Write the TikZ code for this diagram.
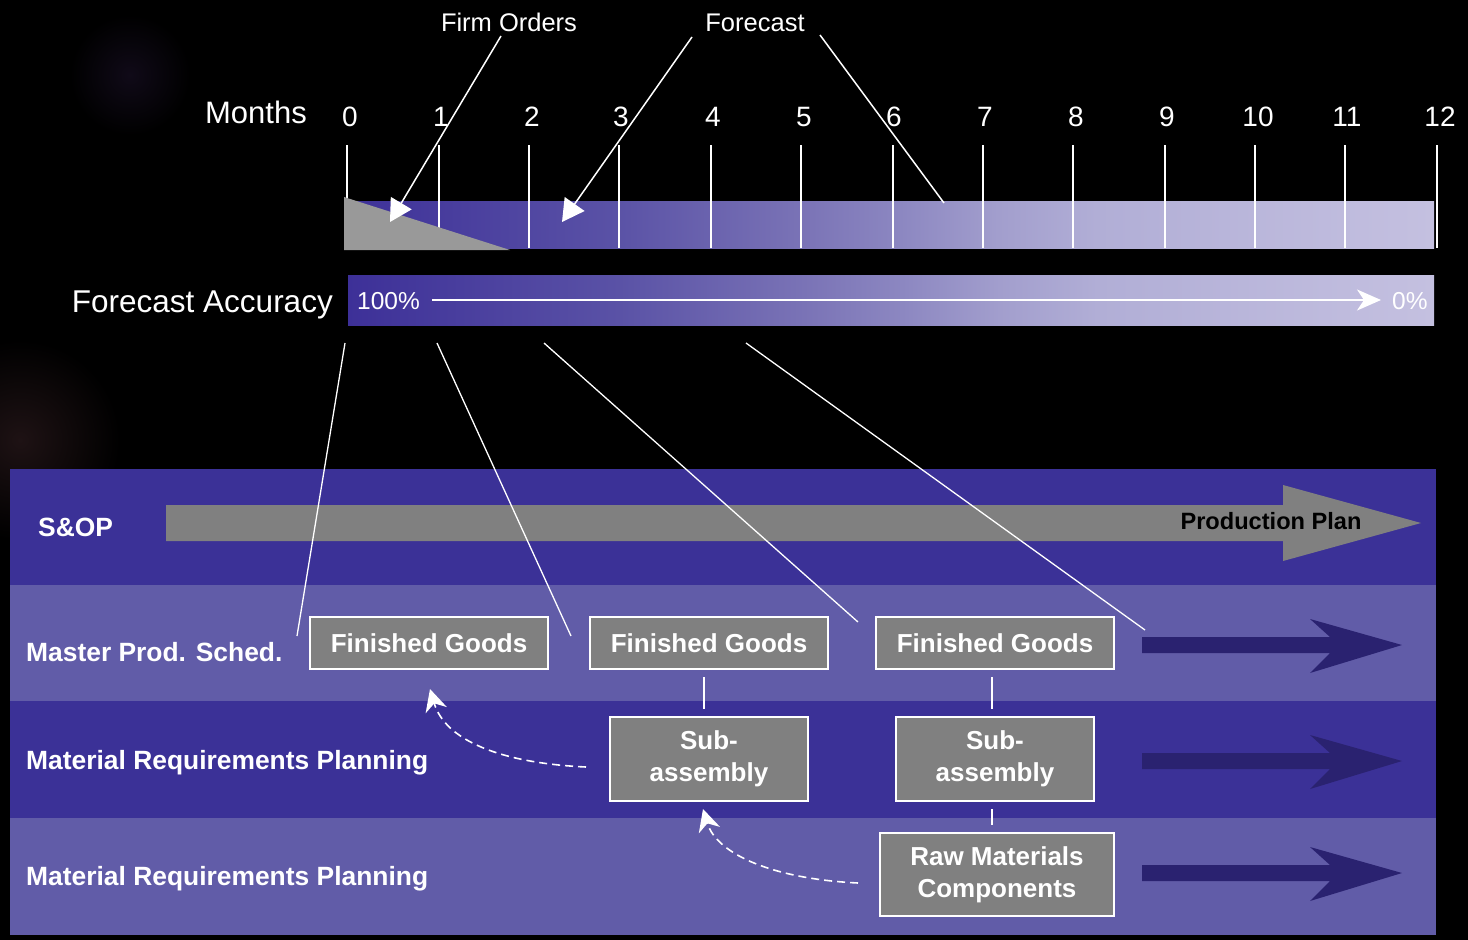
\documentclass[tikz,border=0pt]{standalone}
\usepackage{fontspec}
\setmainfont{Liberation Sans}
\usetikzlibrary{arrows.meta}
\definecolor{banddark}{RGB}{59,49,151}
\definecolor{bandlight}{RGB}{97,92,168}
\definecolor{navyarrow}{RGB}{42,34,112}
\definecolor{boxgrey}{RGB}{128,128,128}
\definecolor{trigrey}{RGB}{153,153,153}
\definecolor{gc0}{RGB}{61,48,152}
\definecolor{gc1}{RGB}{90,82,166}
\definecolor{gc2}{RGB}{122,115,182}
\definecolor{gc3}{RGB}{140,135,193}
\definecolor{gc4}{RGB}{162,158,205}
\definecolor{gc5}{RGB}{177,174,214}
\definecolor{gc6}{RGB}{196,192,224}
\pgfdeclarehorizontalshading{timeshade}{100bp}{color(0bp)=(gc0); color(25bp)=(gc0); color(37.5bp)=(gc1); color(46bp)=(gc2); color(50.5bp)=(gc3); color(55bp)=(gc4); color(59.5bp)=(gc5); color(75bp)=(gc6); color(100bp)=(gc6)}
\tikzset{
  lbl/.style={text=white, inner sep=0pt, anchor=base},
  ticklbl/.style={lbl, font=\fontsize{28}{30}\selectfont},
  bandlbl/.style={lbl, anchor=base west, font=\fontsize{26.4}{30}\selectfont\bfseries},
  tickline/.style={white, line width=2pt},
  thinline/.style={white, line width=1.3pt},
  bigtip/.style={white, line width=1.5pt, -{Triangle[length=22pt,width=24pt]}},
  gbox/.style={draw=white, fill=boxgrey, line width=2pt, text=white, align=center, inner sep=0pt, font=\fontsize{26}{32}\selectfont\bfseries},
  dasharrow/.style={white, line width=1.6pt, dash pattern=on 8pt off 5pt, -{Stealth[length=22pt,width=22pt,inset=7pt]}},
  linkline/.style={white, line width=2pt, shorten <=7pt, shorten >=7pt},
}
\begin{document}
\begin{tikzpicture}[x=1pt,y=-1pt]
\fill[black] (0,0) rectangle (1468,940);
\useasboundingbox (0,0) rectangle (1468,940);
% faint background glow
\shade[inner color={rgb,255:red,30;green,18;blue,20}, outer color=black] (20,440) circle (100);
\shade[inner color={rgb,255:red,16;green,10;blue,24}, outer color=black] (130,75) circle (60);

% ---- timeline bar ----
\shade[shading=timeshade] (344,201) rectangle (1434,248);
\foreach \i/\lx/\tx in {0/350/347,1/441/439,2/532/529,3/621/619,4/713/711,5/804/801,6/894/893,7/985/983,8/1076/1073,9/1167/1165,10/1258/1255,11/1347/1345,12/1440/1437}{
  \node[ticklbl] (m\i) at (\lx,126) {\i};
  \ifnum\i=0
    \draw[tickline] (\tx,145) -- (\tx,198);
  \else
    \draw[tickline] (\tx,145) -- (\tx,248);
  \fi
}
\fill[trigrey] (344,197) -- (510,250) -- (344,250) -- cycle;
\node[lbl, anchor=base east, font=\fontsize{31}{34}\selectfont] (months) at (307,123) {Months};

% ---- Firm Orders / Forecast ----
\node[lbl, font=\fontsize{25.5}{28}\selectfont] (firm) at (509,31) {Firm Orders};
\node[lbl, font=\fontsize{25.5}{28}\selectfont] (fcst) at (755,31) {Forecast};
\coordinate (firmA) at (501,36);
\coordinate (firmB) at (390,222);
\coordinate (fcA) at (692,37);
\coordinate (fcB) at (562,222);
\coordinate (fcC) at (820,35);
\coordinate (fcD) at (944,203);
\draw[bigtip] (firmA) -- (firmB);
\draw[bigtip] (fcA) -- (fcB);
\draw[white, line width=1.5pt] (fcC) -- (fcD);

% ---- Forecast accuracy ----
\shade[shading=timeshade] (348,275) rectangle (1434,325);
\node[lbl, anchor=base east, font=\fontsize{31.5}{34}\selectfont] (facc) at (333,312) {Forecast Accuracy};
\node[lbl, anchor=base west, font=\fontsize{24.5}{28}\selectfont] (p100) at (357,309) {100\%};
\node[lbl, anchor=base west, font=\fontsize{24.5}{28}\selectfont] (p0) at (1392,309) {0\%};
\coordinate (accA) at (432,300);
\coordinate (accB) at (1381,300);
\draw[white, line width=2pt, -{Stealth[length=24pt,width=21pt,inset=7pt]}] (accA) -- (accB);

% ---- bands ----
\fill[banddark] (10,469) rectangle (1436,585);
\fill[bandlight] (10,585) rectangle (1436,701);
\fill[banddark] (10,701) rectangle (1436,818);
\fill[bandlight] (10,818) rectangle (1436,935);

\node[bandlbl] (sop) at (38,536) {S\&OP};
\node[bandlbl] (mps) at (26,661) {Master Prod. Sched.};
\node[bandlbl] (mrp1) at (26,769) {Material Requirements Planning};
\node[bandlbl] (mrp2) at (26,885) {Material Requirements Planning};

% production plan arrow
\fill[boxgrey] (166,505) -- (1283,505) -- (1283,485) -- (1421,523) -- (1283,561) -- (1283,541) -- (166,541) -- cycle;
\node[lbl, text=black, font=\fontsize{23.6}{26}\selectfont\bfseries] (pplan) at (1271,529) {Production Plan};

% navy arrows
\foreach \yc in {645,761,873}{
  \fill[navyarrow] (1142,\yc-8) -- (1330,\yc-8) -- (1310,\yc-26) -- (1402,\yc) -- (1310,\yc+28) -- (1330,\yc+8) -- (1142,\yc+8) -- cycle;
}

% ---- lines from accuracy bar ----
\coordinate (a1) at (345,343); \coordinate (b1) at (297,636);
\coordinate (a2) at (437,343); \coordinate (b2) at (571,636);
\coordinate (a3) at (544,343); \coordinate (b3) at (858,622);
\coordinate (a4) at (746,343); \coordinate (b4) at (1145,630);
\draw[thinline] (a1) -- (b1);
\draw[thinline] (a2) -- (b2);
\draw[thinline] (a3) -- (b3);
\draw[thinline] (a4) -- (b4);

% ---- boxes ----
\node[gbox, minimum width=238pt, minimum height=52pt] (fg1) at (429,643) {Finished Goods};
\node[gbox, minimum width=238pt, minimum height=52pt] (fg2) at (709,643) {Finished Goods};
\node[gbox, minimum width=238pt, minimum height=52pt] (fg3) at (995,643) {Finished Goods};
\node[gbox, minimum width=198pt, minimum height=84pt] (sa1) at (709,759) {Sub-\\assembly};
\node[gbox, minimum width=198pt, minimum height=84pt] (sa2) at (995,759) {Sub-\\assembly};
\node[gbox, minimum width=234pt, minimum height=83pt] (raw) at (997,874.5) {Raw Materials\\Components};

\draw[linkline] ([xshift=-5pt]fg2.south) -- ([xshift=-5pt]sa1.north);
\draw[linkline] ([xshift=-3pt]fg3.south) -- ([xshift=-3pt]sa2.north);
\draw[linkline] ([xshift=-3pt]sa2.south) -- ([xshift=-3pt]sa2.south |- raw.north);

% dashed feedback arrows
\coordinate (d1s) at (586,767);
\coordinate (d2s) at (858,883);
\draw[dasharrow] (d1s) .. controls (500,763) and (445,740) .. ([xshift=1pt,yshift=-19pt]fg1.south);
\draw[dasharrow] (d2s) .. controls (775,879) and (717,855) .. ([xshift=-6pt,yshift=-7pt]sa1.south);
\end{tikzpicture}
\end{document}
